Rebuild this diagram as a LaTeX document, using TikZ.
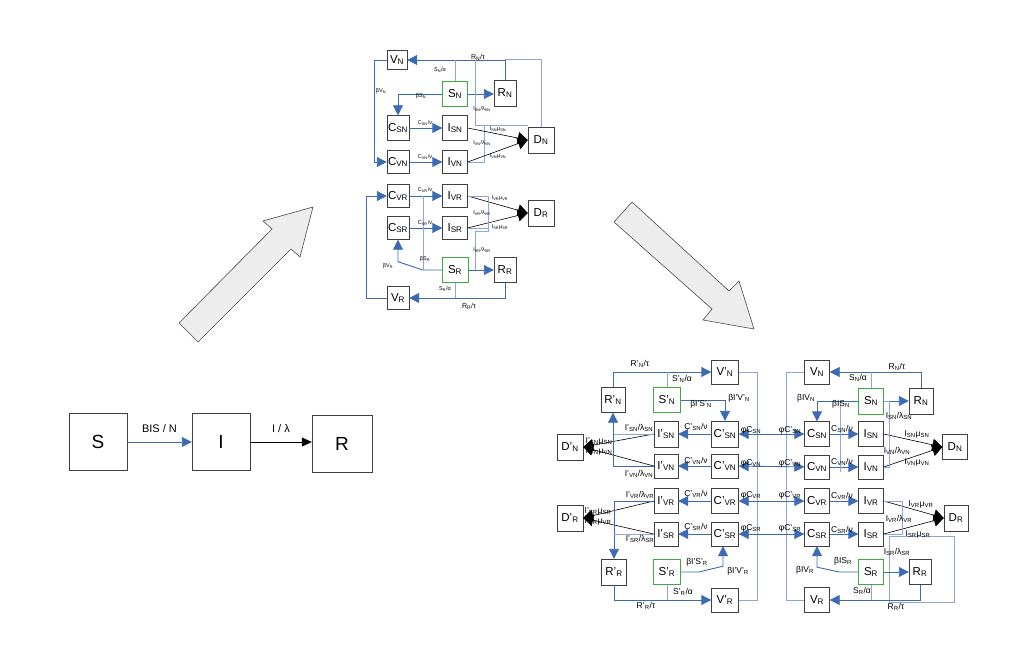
\documentclass[tikz,border=0pt]{standalone}
\usepackage{fontspec}
\setmainfont{Liberation Sans}
\usetikzlibrary{positioning, arrows.meta, calc}
\definecolor{flowblue}{HTML}{3C6BB3}
\definecolor{linkblue}{HTML}{8CA8D8}
\definecolor{susgreen}{HTML}{3DAA3D}
\newcommand{\lo}[1]{\textsubscript{#1}}

\begin{document}
\begin{tikzpicture}[
  x=1pt, y=-1pt,
  comp/.style={draw=black!75, fill=white, minimum width=25pt, minimum height=25pt, inner sep=0pt, font=\fontsize{11.5}{11.5}\selectfont},
  pcomp/.style={comp, minimum width=27pt},
  tcomp/.style={comp, minimum width=22pt, minimum height=23pt},
  sus/.style={draw=susgreen},
  bigcomp/.style={comp, minimum width=58pt, minimum height=57pt, font=\fontsize{19}{19}\selectfont},
  flow/.style={draw=flowblue, line width=0.9pt, -{Triangle[length=10pt, width=10pt]}},
  link/.style={draw=linkblue, line width=1pt},
  swap/.style={draw=flowblue, line width=0.9pt, {Triangle[length=10pt, width=10pt]}-{Triangle[length=10pt, width=10pt]}},
  death/.style={draw=black, line width=0.6pt, -{Triangle[length=10pt, width=12pt]}},
  rate/.style={inner sep=0pt, font=\fontsize{8.5}{8.5}\selectfont},
  trate/.style={inner sep=0pt, font=\fontsize{5.5}{5.5}\selectfont},
  bigarrow/.style={draw=black!70, fill=black!7, line width=0.6pt},
]
\useasboundingbox (0,0) rectangle (1021,669);

% SIR
\node[bigcomp] (s) at (98,442) {S};
\node[bigcomp] (i) at (221,442) {I};
\node[bigcomp, minimum width=60pt] (r) at (342,444) {R};
\draw[flow] (s) -- (i) node[midway, above=6pt, font=\fontsize{11}{11}\selectfont] {BIS / N};
\draw[death, -{Triangle[length=10pt, width=9pt]}] (i.east) -- (i.east -| r.west)
  node[midway, above=6pt, font=\fontsize{11}{11}\selectfont] {I / λ};

\draw[bigarrow] (179,323) -- (198,342) -- (291,249) -- (300,257) -- (313,207) -- (263,221) -- (272,229) -- cycle;
\draw[bigarrow] (614,222) -- (632,202) -- (729,291) -- (739,281) -- (754,329) -- (703,320) -- (712,309) -- cycle;

% top model, N part
\node[tcomp, minimum width=20pt, minimum height=19pt] (tvN) at (397,60) {V\lo{N}};
\node[tcomp, sus, minimum width=25pt, minimum height=25pt] (tsN) at (455,94) {S\lo{N}};
\node[tcomp, minimum height=26pt] (trN) at (505,93) {R\lo{N}};
\node[tcomp, minimum height=25pt] (tcsN) at (398,128) {C\lo{SN}};
\node[tcomp, minimum width=25pt, minimum height=25pt] (tisN) at (455,128) {I\lo{SN}};
\node[tcomp, minimum width=26pt, minimum height=26pt] (tdN) at (541,140) {D\lo{N}};
\node[tcomp] (tcvN) at (398,162) {C\lo{VN}};
\node[tcomp, minimum width=25pt] (tivN) at (455,162) {I\lo{VN}};

\draw[flow] (tvN.west) -- ++(-12,0) |- (tcvN.west);
\draw[flow] (tsN.west) -| (tcsN.north);
\draw[flow] (tsN.east) -- (tsN.east -| trN.west);
\draw[flow] (trN.north) |- (tvN.east);
\draw[link] (tsN.north) -- (tsN.north |- tvN.east);
\draw[link] (trN.north |- tvN.east) -| (tdN.north);
\coordinate (tkN) at (475,125);
\draw[link] (tivN.east) -- ++(17,0) |- (tkN) -- (tkN |- tvN.east);
\draw[link] (tkN) -- (tkN -| tdN.west);
\draw[flow] (tcsN) -- (tisN);
\draw[flow] (tcvN) -- (tivN);
\draw[death] (tisN.east) -- (tdN.west);
\draw[death] (tivN.east) -- (tdN.west);

\node[trate, font=\fontsize{7}{7}\selectfont] at (478,57) {R\lo{N}/τ};
\node[trate] at (440,70) {S\lo{N}/α};
\node[trate] at (381,91) {βV\lo{N}};
\node[trate] at (421,96) {βS\lo{N}};
\node[trate] at (425,123) {C\lo{SN}/ν};
\node[trate] at (425,157) {C\lo{VN}/ν};
\node[trate] at (482,109) {I\lo{SN}/λ\lo{SN}};
\node[trate] at (498,129) {I\lo{SN}μ\lo{SN}};
\node[trate] at (482,143) {I\lo{VN}/λ\lo{VN}};
\node[trate] at (498,156) {I\lo{VN}μ\lo{VN}};

% top model, R part
\node[tcomp] (tcvR) at (398,196) {C\lo{VR}};
\node[tcomp, minimum width=25pt] (tivR) at (455,196) {I\lo{VR}};
\node[tcomp, minimum width=26pt, minimum height=26pt] (tdR) at (541,213) {D\lo{R}};
\node[tcomp] (tcsR) at (398,228) {C\lo{SR}};
\node[tcomp, minimum width=25pt] (tisR) at (455,228) {I\lo{SR}};
\node[tcomp, sus, minimum width=26pt, minimum height=25pt] (tsR) at (455,270) {S\lo{R}};
\node[tcomp, minimum height=25pt] (trR) at (505,270) {R\lo{R}};
\node[tcomp] (tvR) at (398,298) {V\lo{R}};

\draw[flow] (tvR.west) -- ++(-20,0) |- (tcvR.west);
\draw[flow] (tcvR) -- (tivR);
\draw[flow] (tcsR) -- (tisR);
\draw[death] (tivR.east) -- (tdR.west);
\draw[death] (tisR.east) -- (tdR.west);
\draw[flow] (tsR.west) -- ++(-19,0) -- ($(tcsR.south)+(0,22)$) -- (tcsR.south);
\draw[flow] (tsR.east) -- (tsR.east -| trR.west);
\draw[link] (tsR.south) -- (tsR.south |- tvR.east);
\draw[flow] (trR.south) |- (tvR.east);
\coordinate (tkR) at (423,196);
\draw[link] (tkR) -- (tkR |- tsR.west);
\draw[link] (tivR.east) -- ++(21,0) -- ++(0,35) -- ++(-13,0) coordinate (tjR) -- (tjR |- tsR.east);
\draw[link] (tisR.east) -- ++(21,0);

\node[trate] at (425,190) {C\lo{VR}/ν};
\node[trate] at (425,223) {C\lo{SR}/ν};
\node[trate] at (500,198) {I\lo{VR}μ\lo{VR}};
\node[trate] at (482,213) {I\lo{VR}/λ\lo{VR}};
\node[trate] at (500,227) {I\lo{SR}μ\lo{SR}};
\node[trate] at (482,250) {I\lo{SR}/λ\lo{SR}};
\node[trate] at (425,259) {βS\lo{R}};
\node[trate] at (388,266) {βV\lo{R}};
\node[trate] at (445,289) {S\lo{R}/α};
\node[trate, font=\fontsize{7}{7}\selectfont] at (469,306) {R\lo{R}/τ};

% second model, primed N
\node[pcomp, minimum height=24pt] (vpN) at (725,372) {V'\lo{N}};
\node[comp, minimum width=24pt] (rpN) at (613,400) {R'\lo{N}};
\node[pcomp, sus] (spN) at (667,400) {S'\lo{N}};
\node[pcomp, minimum height=26pt] (cpsN) at (725,434) {C'\lo{SN}};
\node[comp, minimum width=24pt, minimum height=26pt] (ipsN) at (666,434) {I'\lo{SN}};
\node[comp, minimum width=26pt, minimum height=26pt] (dpN) at (570,447) {D'\lo{N}};
\node[comp, minimum width=24pt, minimum height=24pt] (ipvN) at (666,466) {I'\lo{VN}};
\node[pcomp, minimum height=24pt] (cpvN) at (725,466) {C'\lo{VN}};

% primed R
\node[comp, minimum width=24pt] (ipvR) at (666,501) {I'\lo{VR}};
\node[pcomp] (cpvR) at (725,501) {C'\lo{VR}};
\node[comp, minimum width=26pt, minimum height=26pt] (dpR) at (570,518) {D'\lo{R}};
\node[comp, minimum width=24pt, minimum height=24pt] (ipsR) at (666,534) {I'\lo{SR}};
\node[pcomp, minimum height=24pt] (cpsR) at (725,534) {C'\lo{SR}};
\node[comp, minimum height=26pt] (rpR) at (614,572) {R'\lo{R}};
\node[pcomp, sus] (spR) at (667,572) {S'\lo{R}};
\node[pcomp, minimum height=24pt] (vpR) at (725,600) {V'\lo{R}};

% unprimed N
\node[comp, minimum height=24pt] (vN) at (817,372) {V\lo{N}};
\node[comp, sus, minimum height=26pt] (sN) at (871,401) {S\lo{N}};
\node[comp, minimum width=24pt, minimum height=26pt] (rN) at (921,401) {R\lo{N}};
\node[comp] (csN) at (817,434) {C\lo{SN}};
\node[comp] (isN) at (871,434) {I\lo{SN}};
\node[comp] (dN) at (955,447) {D\lo{N}};
\node[comp, minimum height=24pt] (cvN) at (817,467) {C\lo{VN}};
\node[comp, minimum height=24pt] (ivN) at (871,467) {I\lo{VN}};

% unprimed R
\node[comp] (cvR) at (817,501) {C\lo{VR}};
\node[comp] (ivR) at (871,501) {I\lo{VR}};
\node[comp, minimum width=24pt, minimum height=26pt] (dR) at (956,518) {D\lo{R}};
\node[comp, minimum height=24pt] (csR) at (817,534) {C\lo{SR}};
\node[comp, minimum height=24pt] (isR) at (871,534) {I\lo{SR}};
\node[comp, sus] (sR) at (871,572) {S\lo{R}};
\node[comp, minimum width=22pt] (rR) at (920,572) {R\lo{R}};
\node[comp] (vR) at (817,600) {V\lo{R}};

% connectors, primed side
\draw[flow] (rpN.north) |- (vpN.west);
\draw[link] (spN.north) -- (spN.north |- vpN.west);
\draw[flow] (spN.east) -| (cpsN.north);
\draw[flow] (cpsN) -- (ipsN);
\draw[flow] (cpvN) -- (ipvN);
\draw[death] (ipsN.west) -- (dpN.east);
\draw[death] (ipvN.west) -- (dpN.east);
\draw[link] (ipsN.west) -- (ipsN.west -| rpN.south);
\draw[flow] (ipvN.west) -| (rpN.south);

\draw[flow] (cpvR) -- (ipvR);
\draw[flow] (cpsR) -- (ipsR);
\draw[death] (ipvR.west) -- (dpR.east);
\draw[death] (ipsR.west) -- (dpR.east);
\draw[flow] (ipvR.west) -| (rpR.north);
\draw[link] (ipsR.west) -- (ipsR.west -| rpR.north);
\draw[flow] (rpR.south) |- (vpR.west);
\draw[link] (spR.south) -- (spR.south |- vpR.west);
\draw[flow] (spR.east) -- ++(18,0) -- ($(cpsR.south)+(-2,20)$) -- (cpsR.south -| 723,0);

% exchange between the two sides
\draw[link] (vpN.east) -- ++(19,0) |- (vpR.east);
\draw[link] (vN.west) -- ++(-18,0) |- (vR.west);
\draw[swap] (cpsN) -- (csN);
\draw[swap] (cpvN) -- (cvN);
\draw[swap] (cpvR) -- (cvR);
\draw[swap] (cpsR) -- (csR);

% connectors, unprimed side
\draw[flow] (rN.north) |- (vN.east);
\draw[link] (sN.north) -- (sN.north |- vN.east);
\draw[flow] (sN.west) -| (csN.north);
\draw[flow] (sN.east) -- (sN.east -| rN.west);
\draw[flow] (csN) -- (isN);
\draw[flow] (cvN) -- (ivN);
\draw[death] (isN.east) -- (dN.west);
\draw[death] (ivN.east) -- (dN.west);
\draw[link] ($(sN.west)+(-18,0)$) -- ($(ivN.west)+(-18,5)$);
\draw[link] (ivN.east) -- ++(6,0) |- (sN.east);

\draw[flow] (cvR) -- (ivR);
\draw[flow] (csR) -- (isR);
\draw[death] (ivR.east) -- (dR.west);
\draw[death] (isR.east) -- (dR.west);
\draw[link] (ivR.east) -- ++(19,0) |- (isR.east);
\draw[link] ($(rR.north west)+(-19,-23)$) rectangle ($(rR.south east)+(23,18)$);
\draw[flow] (sR.west) -- ++(-19,0) -- ($(csR.south)+(0,21)$) -- (csR.south);
\draw[flow] (sR.east) -- (sR.east -| rR.west);
\draw[link] (sR.south) -- (sR.south |- vR.east);
\draw[flow] (rR.south) |- (vR.east);

% rates, primed side
\node[rate] at (640,364) {R'\lo{N}/τ};
\node[rate] at (682,379) {S'\lo{N}/α};
\node[rate] at (701,404) {βI'S'\lo{N}};
\node[rate] at (739,398) {βI'V'\lo{N}};
\node[rate] at (696,427) {C'\lo{SN}/ν};
\node[rate] at (696,461) {C'\lo{VN}/ν};
\node[rate] at (639,428) {I'\lo{SN}/λ\lo{SN}};
\node[rate] at (599,441) {I'\lo{SN}μ\lo{SN}};
\node[rate] at (599,451) {I'\lo{VN}μ\lo{VN}};
\node[rate] at (639,474) {I'\lo{VN}/λ\lo{VN}};
\node[rate] at (696,494) {C'\lo{VR}/ν};
\node[rate] at (696,527) {C'\lo{SR}/ν};
\node[rate] at (640,495) {I'\lo{VR}/λ\lo{VR}};
\node[rate] at (598,511) {I'\lo{SR}μ\lo{SR}};
\node[rate] at (598,521) {I'\lo{VR}μ\lo{VR}};
\node[rate] at (640,539) {I'\lo{SR}/λ\lo{SR}};
\node[rate] at (697,562) {βI'S'\lo{R}};
\node[rate] at (738,571) {βI'V'\lo{R}};
\node[rate] at (683,592) {S'\lo{R}/α};
\node[rate] at (646,606) {R'\lo{R}/τ};

\node[rate] at (751,430) {φC\lo{SN}};
\node[rate] at (790,430) {φC'\lo{SN}};
\node[rate] at (751,463) {φC\lo{VN}};
\node[rate] at (790,463) {φC'\lo{VN}};
\node[rate] at (751,495) {φC\lo{VR}};
\node[rate] at (790,495) {φC'\lo{VR}};
\node[rate] at (751,528) {φC\lo{SR}};
\node[rate] at (790,528) {φC'\lo{SR}};

% rates, unprimed side
\node[rate] at (897,367) {R\lo{N}/τ};
\node[rate] at (858,378) {S\lo{N}/α};
\node[rate] at (806,398) {βIV\lo{N}};
\node[rate] at (841,404) {βIS\lo{N}};
\node[rate] at (842,429) {C\lo{SN}/ν};
\node[rate] at (842,462) {C\lo{VN}/ν};
\node[rate] at (899,416) {I\lo{SN}/λ\lo{SN}};
\node[rate] at (917,434) {I\lo{SN}μ\lo{SN}};
\node[rate] at (897,451) {I\lo{VN}/λ\lo{VN}};
\node[rate] at (917,462) {I\lo{VN}μ\lo{VN}};
\node[rate] at (842,496) {C\lo{VR}/ν};
\node[rate] at (842,530) {C\lo{SR}/ν};
\node[rate] at (921,504) {I\lo{VR}μ\lo{VR}};
\node[rate] at (899,519) {I\lo{VR}/λ\lo{VR}};
\node[rate] at (918,534) {I\lo{SR}μ\lo{SR}};
\node[rate] at (897,552) {I\lo{SR}/λ\lo{SR}};
\node[rate] at (843,561) {βIS\lo{R}};
\node[rate] at (805,570) {βIV\lo{R}};
\node[rate] at (862,591) {S\lo{R}/α};
\node[rate] at (896,607) {R\lo{R}/τ};
\end{tikzpicture}
\end{document}
